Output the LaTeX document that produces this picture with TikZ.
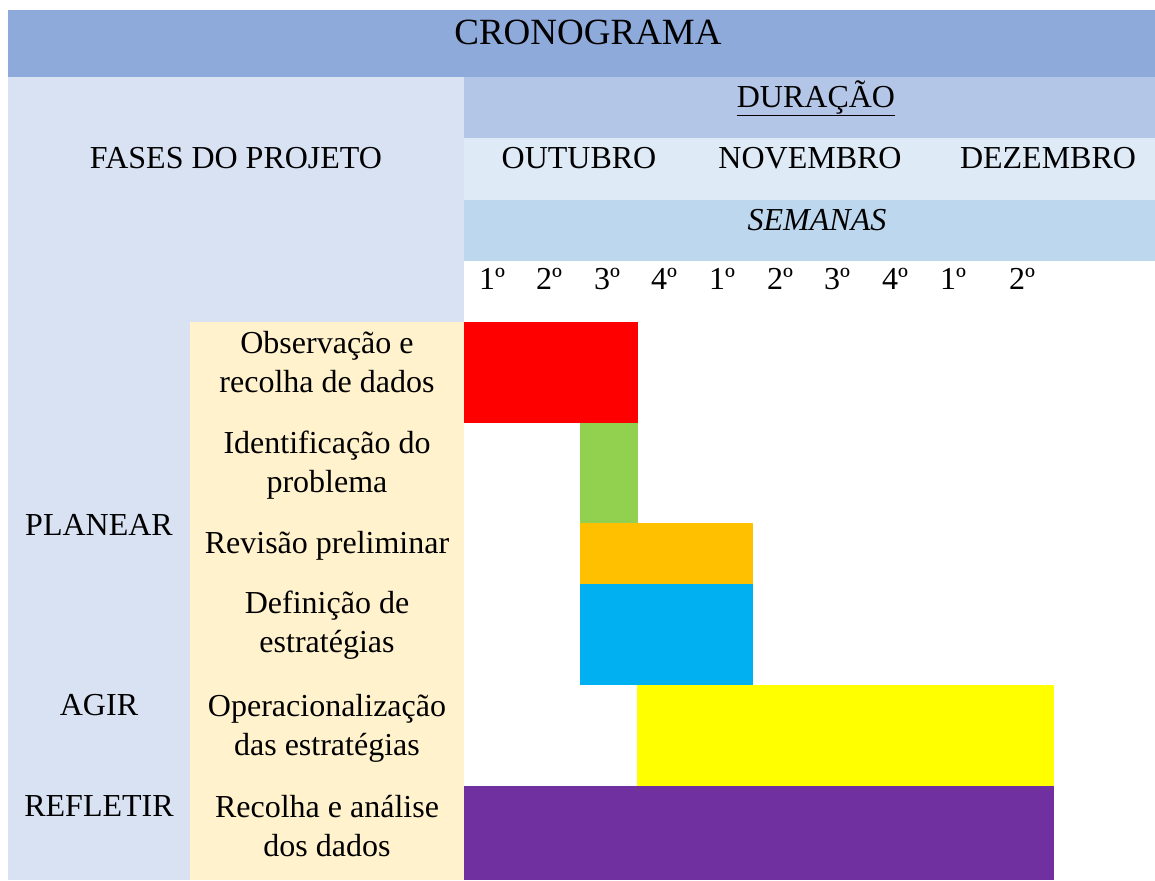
\documentclass[tikz,border=0pt]{standalone}
\usepackage{fontspec}
\setmainfont{Liberation Serif}
\definecolor{bannerblue}{HTML}{8EAADB}
\definecolor{phaseblue}{HTML}{D9E2F3}
\definecolor{durblue}{HTML}{B4C6E7}
\definecolor{monthblue}{HTML}{DEEAF6}
\definecolor{weekblue}{HTML}{BDD7EE}
\definecolor{taskcream}{HTML}{FFF2CC}
\definecolor{barred}{HTML}{FF0000}
\definecolor{bargreen}{HTML}{92D050}
\definecolor{barorange}{HTML}{FFC000}
\definecolor{barblue}{HTML}{00B0F0}
\definecolor{baryellow}{HTML}{FFFF00}
\definecolor{barpurple}{HTML}{7030A0}
\begin{document}
\begin{tikzpicture}[x=1pt, y=-1pt,
    cell/.style={font=\fontsize{32}{39}\selectfont, inner sep=0pt, anchor=base, align=center}]
    \useasboundingbox (0,0) rectangle (1155,880);

    % Header bands
    \fill[bannerblue] (8,10) rectangle (1155,77);
    \fill[phaseblue] (8,77) rectangle (464,322);
    \fill[phaseblue] (8,322) rectangle (190,880);
    \fill[durblue] (464,77) rectangle (1155,138);
    \fill[monthblue] (464,138) rectangle (1155,200);
    \fill[weekblue] (464,200) rectangle (1155,261);
    \fill[taskcream] (190,322) rectangle (464,880);

    % Bars of the schedule
    \fill[barred] (464,322) rectangle (638,423);
    \fill[bargreen] (580,423) rectangle (638,523);
    \fill[barorange] (580,523) rectangle (753,584);
    \fill[barblue] (580,584) rectangle (753,685);
    \fill[baryellow] (637,685) rectangle (1054,786);
    \fill[barpurple] (464,786) rectangle (1054,880);

    % Header texts
    \node[cell, font=\fontsize{37}{44}\selectfont] (title) at (588,45) {CRONOGRAMA};
    \node[cell] (fases) at (236,168) {FASES DO PROJETO};
    \node[cell] (duracao) at (816,107) {\underline{DURAÇÃO}};
    \node[cell] (outubro) at (579,168) {OUTUBRO};
    \node[cell] (novembro) at (810,168) {NOVEMBRO};
    \node[cell] (dezembro) at (1048,168) {DEZEMBRO};
    \node[cell] (semanas) at (817,230) {\textit{SEMANAS}};

    % Weeks
    \foreach \n/\x in {1/492, 2/549, 3/607, 4/664, 1/722, 2/780, 3/837, 4/895, 1/953, 2/1022}{
        \node[cell] (week\x) at (\x,289) {\n{}º};
    }

    % Phases
    \node[cell] (planear) at (99,535) {PLANEAR};
    \node[cell] (agir) at (99,715) {AGIR};
    \node[cell] (refletir) at (99,816) {REFLETIR};

    % Tasks (base = last line)
    \node[cell] (observacao) at (327,392) {Observação e\\recolha de dados};
    \node[cell] (identificacao) at (327,492) {Identificação do\\problema};
    \node[cell] (revisao) at (327,553) {Revisão preliminar};
    \node[cell] (definicao) at (327,652) {Definição de\\estratégias};
    \node[cell] (operacional) at (327,755) {Operacionalização\\das estratégias};
    \node[cell] (recolha) at (327,856) {Recolha e análise\\dos dados};
\end{tikzpicture}
\end{document}
